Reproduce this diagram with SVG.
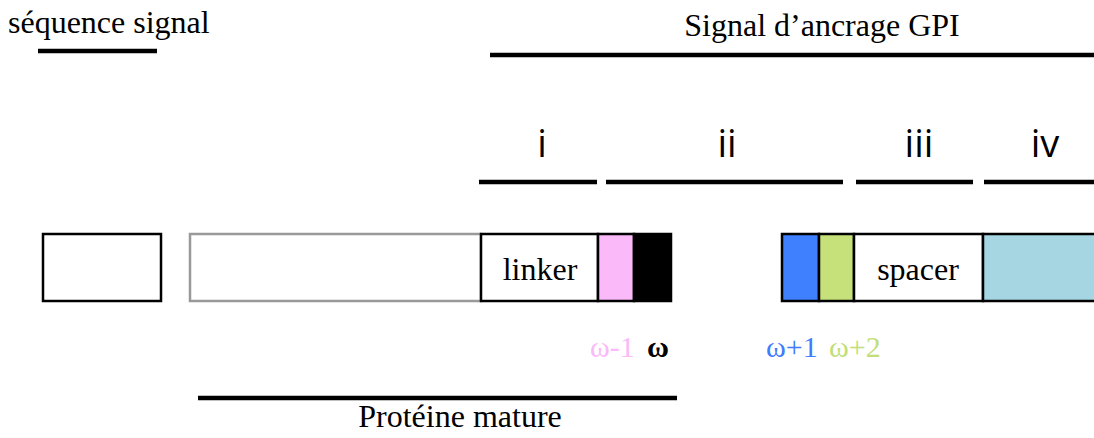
<svg xmlns="http://www.w3.org/2000/svg" width="1094" height="438" viewBox="0 0 1094 438">
<style>
.serif{font-family:"Liberation Serif","Times New Roman",serif;font-size:32px;fill:#000}
.sans{font-family:"Open Sans","DejaVu Sans",sans-serif;font-size:38px;fill:#000;text-anchor:middle}
.om{font-family:"Liberation Serif","Times New Roman",serif;font-size:30px}
.box{stroke:#000;stroke-width:2.5}
.bar{stroke:#000;stroke-width:4.5;fill:none}
</style>
<rect width="1094" height="438" fill="#fff"/>
<g id="connectors">
<line class="bar" x1="38" y1="51" x2="157" y2="51"/>
<line class="bar" x1="490" y1="55" x2="1094" y2="55"/>
<line class="bar" x1="479" y1="182" x2="597" y2="182"/>
<line class="bar" x1="606" y1="182" x2="843" y2="182"/>
<line class="bar" x1="856" y1="182" x2="973" y2="182"/>
<line class="bar" x1="984" y1="182" x2="1094" y2="182"/>
<line class="bar" x1="198" y1="398" x2="677" y2="398"/>
</g>
<g id="labels">
<text class="serif" x="8" y="33" font-size="31">séquence signal</text>
<text class="serif" x="822" y="36" text-anchor="middle">Signal d’ancrage GPI</text>
<text class="sans" x="542" y="157">i</text>
<text class="sans" x="727" y="157">ii</text>
<text class="sans" x="919" y="157">iii</text>
<text class="sans" x="1045" y="157">iv</text>
<text class="serif" x="460" y="427" text-anchor="middle">Protéine mature</text>
</g>
<g id="signal-box"><rect class="box" x="43" y="234" width="118" height="67" fill="#fff"/></g>
<g id="mature-box"><rect x="190" y="234" width="291" height="67" fill="#fff" stroke="#999" stroke-width="2.5"/></g>
<g id="linker"><rect class="box" x="481" y="234" width="117" height="67" fill="#fff"/><text class="serif" x="540" y="280" text-anchor="middle">linker</text></g>
<g id="omega-1"><rect class="box" x="598" y="234" width="36" height="67" fill="#FAB9F8"/><text class="om" x="590" y="357" fill="#FAB9F8">ω-1</text></g>
<g id="omega"><rect class="box" x="634" y="234" width="37" height="67" fill="#000"/><text class="om" x="647" y="357" font-weight="bold" fill="#000">ω</text></g>
<g id="omega+1"><rect class="box" x="782" y="234" width="37" height="67" fill="#3F80FF"/><text class="om" x="766" y="357" fill="#3F7BFF">ω+1</text></g>
<g id="omega+2"><rect class="box" x="819" y="234" width="35" height="67" fill="#C6E17A"/><text class="om" x="829" y="357" fill="#C2DE78">ω+2</text></g>
<g id="spacer"><rect class="box" x="854" y="234" width="129" height="67" fill="#fff"/><text class="serif" x="918" y="280" text-anchor="middle">spacer</text></g>
<g id="hydrophobic"><rect class="box" x="983" y="234" width="120" height="67" fill="#A5D6E2"/></g>
</svg>
